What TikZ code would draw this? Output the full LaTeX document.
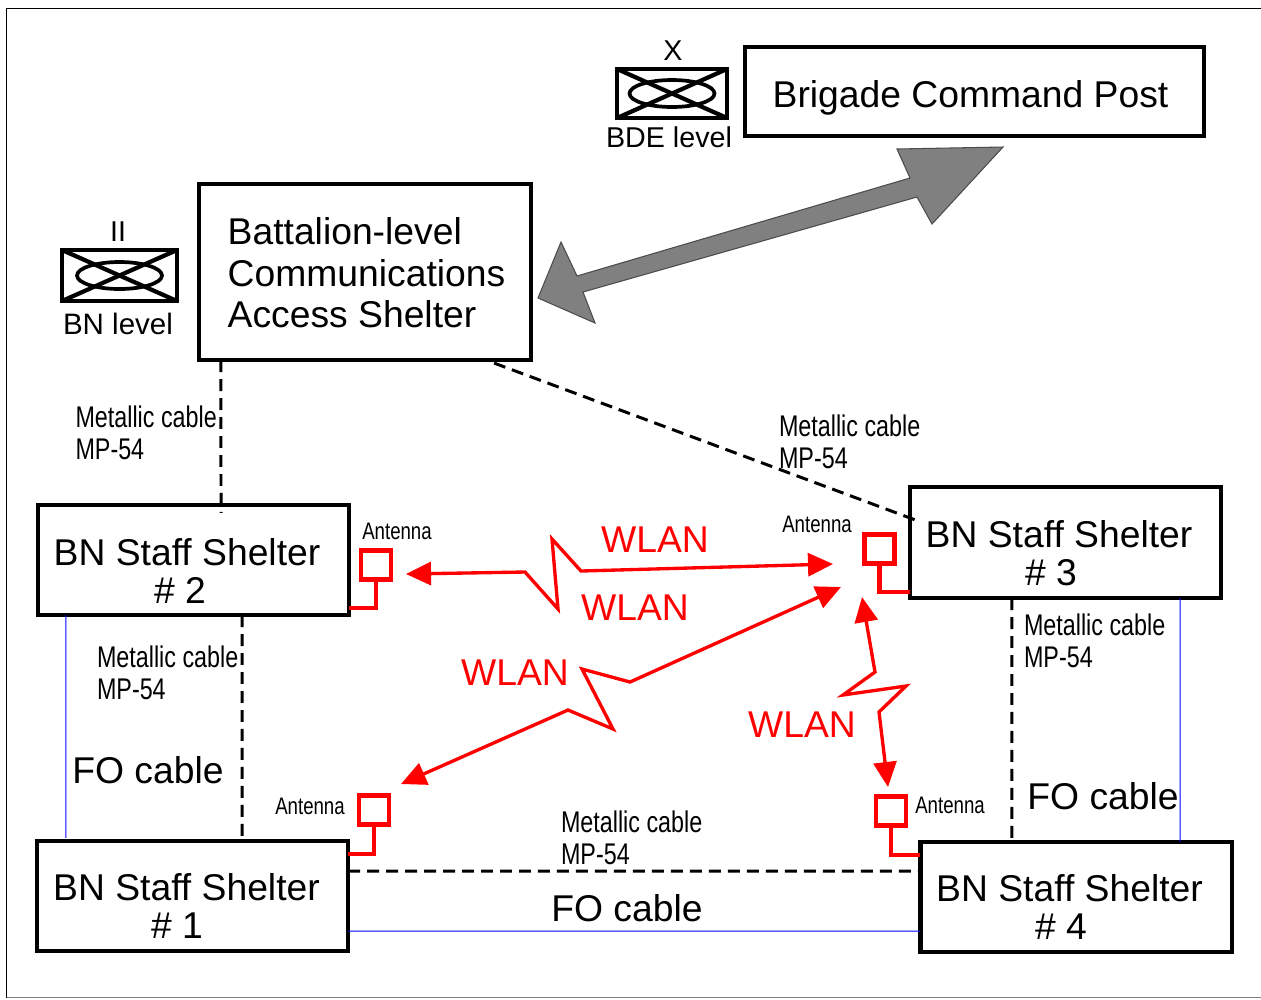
\documentclass[tikz,border=0pt]{standalone}
\usepackage{fontspec}
\setmainfont{Liberation Sans}
\usetikzlibrary{arrows.meta}
\tikzset{
  box/.style={draw,line width=1.2pt,minimum height=1.1cm,minimum width=3.11cm,inner sep=0pt,outer sep=0pt},
  unit/.style={draw,line width=1.2pt,inner sep=0pt,outer sep=0pt},
  big/.style={font=\fontsize{10.6}{10.8}\selectfont,inner sep=0pt},
  small/.style={font=\fontsize{8.15}{8}\selectfont,inner sep=0pt},
  cablenote/.style={font=\fontsize{8.5}{9.1}\selectfont,inner sep=0pt,anchor=west,align=left,xscale=.78,transform shape},
  antnote/.style={font=\fontsize{6.8}{7}\selectfont,inner sep=0pt,xscale=.78,transform shape},
  wlan/.style={big,red},
  ant/.style={draw=red,line width=1.25pt,minimum width=.3cm,minimum height=.29cm,inner sep=0pt,outer sep=0pt},
  stem/.style={red,line width=1.25pt},
  metal/.style={line width=.85pt,dash pattern=on 3.4pt off 2pt},
  fo/.style={blue,line width=.3pt},
  radio/.style={red,line width=.95pt,line join=miter,{Triangle[length=.25cm,width=.23cm]}-{Triangle[length=.25cm,width=.23cm]}}
}
\begin{document}
\begin{tikzpicture}[x=0.01cm,y=-0.01cm]
\useasboundingbox (0,0) rectangle (1261,999);
\draw [line width=.3pt] (1261,8.5) -- (6.5,8.5) -- (6.5,997.5);
\draw [line width=.3pt,gray] (6.5,997.5) -- (1261,997.5);
% command posts
\node [box,minimum width=4.59cm,minimum height=.89cm] (bcp) at (974.5,91.5) {};
\node [big] (bcptext) at (970.5,98) {Brigade Command Post};
\node [box,minimum width=3.32cm,minimum height=1.76cm] (bat) at (365,272) {};
\node [big,anchor=west,align=left,font=\fontsize{10.6}{11.8}\selectfont] (battext) at (227,273) {Battalion-level\\Communications\\Access Shelter};
% shelters
\node [box] (s1) at (192.5,896) {};
\node [box] (s2) at (193.5,560) {};
\node [box,minimum height=1.11cm] (s3) at (1065.5,542.5) {};
\node [box] (s4) at (1076,897) {};
\node [big,align=center] (s1text) at (186.5,906) {BN Staff Shelter\\\# 1\hbox to .19cm{}};
\node [big,align=center] (s2text) at (187,571) {BN Staff Shelter\\\# 2\hbox to .14cm{}};
\node [big,align=center] (s3text) at (1059,553) {BN Staff Shelter\\\# 3\hbox to .16cm{}};
\node [big,align=center] (s4text) at (1069.5,907) {BN Staff Shelter\\\# 4\hbox to .17cm{}};
% unit symbols
\node [unit,minimum width=1.1cm,minimum height=.49cm] (bde) at (672,93.5) {};
\node [unit,minimum width=1.15cm,minimum height=.51cm] (bn) at (119.5,275.5) {};
\foreach \u in {bde,bn} {
  \draw [line width=1.2pt] (\u.north west) -- (\u.south east);
  \draw [line width=1.2pt] (\u.south west) -- (\u.north east);
  \draw [line width=1.05pt] (\u.center) ellipse (42.5 and 13.5);
}
\node [small] (bdetop) at (673,51) {X};
\node [small] (bdetext) at (669,137) {BDE level};
\node [small] (bntop) at (118,232) {II};
\node [small,font=\fontsize{8.4}{8}\selectfont] (bntext) at (118,324) {BN level};
% gray link
\coordinate (battip) at (538,298);
\coordinate (bcptip) at (1003,147);
\filldraw [fill=gray,draw=black!70,line width=.3pt] (battip) -- (561,242) -- (577,276) -- (910,178) -- (897,149) -- (bcptip) -- (932,224) -- (917,197) -- (583,292) -- (595,323) -- cycle;
% metallic cables
\draw [metal] ([xshift=-1.44cm]bat.south) -- ([xshift=.275cm,yshift=-.08cm]s2.north);
\draw [metal] ([xshift=1.29cm,yshift=-.03cm]bat.south) -- ([xshift=-1.5cm,yshift=-.33cm]s3.north);
\draw [metal] ([xshift=.485cm]s2.south) -- ([xshift=.495cm]s1.north);
\draw [metal] ([xshift=-.535cm]s3.south) -- ([xshift=-.64cm]s4.north);
\draw [metal] ([yshift=-.3cm]s1.north east) -- ([yshift=-.29cm]s4.north west);
\node [cablenote] (n1) at (75,433) {Metallic cable\\MP-54};
\node [cablenote] (n2) at (778.5,442) {Metallic cable\\MP-54};
\node [cablenote] (n3) at (96.5,673) {Metallic cable\\MP-54};
\node [cablenote] (n4) at (1023.5,641) {Metallic cable\\MP-54};
\node [cablenote] (n5) at (560.5,838) {Metallic cable\\MP-54};
% fibre
\draw [fo] ([xshift=-1.275cm]s2.south) -- ([xshift=-1.265cm,yshift=.03cm]s1.north);
\draw [fo] ([xshift=1.145cm]s3.south) -- ([xshift=1.04cm]s4.north);
\draw [fo] ([yshift=-.9cm]s1.north east) -- ([yshift=-.89cm]s4.north west);
\node [big] (fo1) at (148,770) {FO cable};
\node [big] (fo2) at (1103,796) {FO cable};
\node [big] (fo3) at (627,908) {FO cable};
% antennas
\node [ant] (a1) at (374,810) {};
\node [ant] (a2) at (376,565) {};
\node [ant] (a3) at (879.5,549) {};
\node [ant] (a4) at (891,811) {};
\draw [stem] (a1.south) |- ([yshift=-.13cm]s1.north east);
\draw [stem] (a2.south) |- ([yshift=-.48cm]s2.east);
\draw [stem] (a3.south) |- ([yshift=-.495cm]s3.west);
\draw [stem] (a4.south) |- ([yshift=-.13cm]s4.north west);
\node [antnote] (t1) at (310,806) {Antenna};
\node [antnote] (t2) at (397,531) {Antenna};
\node [antnote] (t3) at (817,524) {Antenna};
\node [antnote] (t4) at (950,805) {Antenna};
% radio links
\coordinate (r2) at (406,574);
\coordinate (r3) at (833,564);
\coordinate (r1) at (401,784);
\coordinate (q3) at (841,587);
\coordinate (p3) at (862,597);
\coordinate (p4) at (888,787);
\draw [radio] (r2) -- (525,572) -- (558,609) -- (552,539) -- (581,571) -- (r3);
\draw [radio] (r1) -- (568,710) -- (613,729) -- (582,669) -- (630,682) -- (q3);
\draw [radio] (p3) -- (875,672) -- (843,695) -- (906,686) -- (879,712) -- (p4);
\node [wlan] (w1) at (655,540) {WLAN};
\node [wlan] (w2) at (635,608) {WLAN};
\node [wlan] (w3) at (515,673) {WLAN};
\node [wlan] (w4) at (802,725) {WLAN};
\end{tikzpicture}
\end{document}
